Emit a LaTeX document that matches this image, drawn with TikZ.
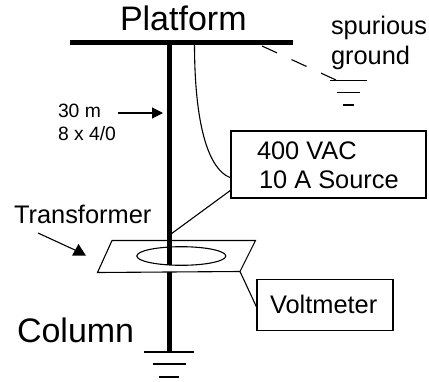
\documentclass[tikz,border=0pt]{standalone}
\usepackage{fontspec}
\setmainfont{Liberation Sans}
\usetikzlibrary{arrows.meta}
\tikzset{
  lbl/.style={anchor=base west,inner sep=0pt,outer sep=0pt,text=black},
  big/.style={lbl,font=\fontsize{34}{36}\selectfont},
  mid/.style={lbl,font=\fontsize{25.4}{28}\selectfont},
  small/.style={lbl,font=\fontsize{19.3}{22}\selectfont},
  wire/.style={line width=1.1pt,black},
  heavy/.style={line width=5pt,black},
  gnd/.style={line width=2pt,black},
  pointer/.style={line width=1.1pt,black,-{Triangle[length=11pt,width=11pt]}},
  boxn/.style={draw=black,line width=1.1pt,fill=white,inner sep=0pt,outer sep=0pt}
}
\begin{document}
\begin{tikzpicture}[x=1pt,y=-1pt]
\useasboundingbox (0,0) rectangle (429,381);
% coordinates
\coordinate (barL) at (70,42.5);
\coordinate (barR) at (293,42.5);
\coordinate (colT) at (169,42.5);
\coordinate (colB) at (169,352);
\coordinate (tapT) at (194.5,44);
\coordinate (tapB) at (231,178);
\coordinate (srcLow) at (231,190);
\coordinate (colTap) at (171,234);
\coordinate (spurT) at (262,46);
\coordinate (spurB) at (336,80);
\coordinate (plTL) at (112,240.5);
\coordinate (plTR) at (255.5,240.5);
\coordinate (plBR) at (240,271.5);
\coordinate (plBL) at (97.5,272.5);
\coordinate (vmTop) at (257,308);
\coordinate (arrS) at (118,113);
\coordinate (arrE) at (163,113);
\coordinate (trS) at (38,233);
\coordinate (trE) at (76,250.5);
\coordinate (trA) at (72,255.7);
\coordinate (trB) at (78.5,244);
\coordinate (trC) at (86,255.7);
% column and bar
\draw[heavy] (colT) -- (colB);
\draw[heavy] (barL) -- (barR);
% plane
\path[fill=white] (plTL) -- (plTR) -- (plBR) -- (plBL) -- cycle;
\draw[heavy] (169,240) -- (169,265);
\draw[wire] (plTL) -- (plTR) -- (plBR) -- (plBL) -- cycle;
\draw[wire] (181.3,256) ellipse (44.5 and 9.3);
% ground symbols
\draw[gnd] (144,352) -- (193.5,352);
\draw[gnd] (152.5,364) -- (185.5,364);
\draw[gnd] (159,376.5) -- (178.5,376.5);
\draw[wire] (330,80.3) -- (367,80.3);
\draw[wire] (337,92.5) -- (360,92.5);
\draw[wire] (343,105) -- (354,105);
% boxes
\node[boxn,minimum width=195pt,minimum height=67pt] (src) at (328.5,164.5) {};
\node[boxn,minimum width=136pt,minimum height=51pt] (vm) at (325,305) {};
% connectors
\draw[wire] (tapT) .. controls (194.5,110) and (204,168) .. (src.west |- tapB);
\draw[wire] (src.west |- srcLow) -- (colTap);
\draw[wire] (plBR) -- (vm.west |- vmTop);
\draw[wire,dash pattern=on 16.5pt off 16pt] (spurT) -- (spurB);
\draw[pointer] (arrS) -- (arrE);
\draw[wire] (trS) -- (trE);
\fill[black] (trA) -- (trB) -- (trC) -- cycle;
% labels
\node[big] (platform) at (120,30) {Platform};
\node[big] (column) at (17,342) {Column};
\node[mid] (spurious) at (331,34) {spurious};
\node[mid] (ground) at (331,64) {ground};
\node[mid] (transformer) at (14,223) {Transformer};
\node[mid] (vac) at (257,159) {400 VAC};
\node[mid] (source) at (259,188) {10 A Source};
\node[mid] (voltmeter) at (270,313) {Voltmeter};
\node[small] (len) at (58,117) {30 m};
\node[small] (gauge) at (58,140) {8 x 4/0};
\end{tikzpicture}
\end{document}
